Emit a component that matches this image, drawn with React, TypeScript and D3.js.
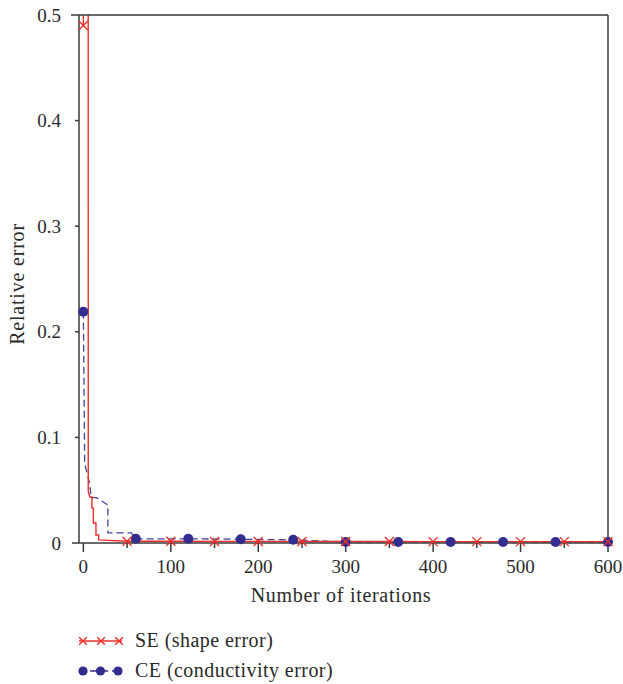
import React from "react";
import * as d3 from "d3";

// ---- Data ----
const seIter = [0, 1, 5.5, 5.6, 7.5, 9.8, 9.8, 11.4, 11.4, 14.4, 14.4, 17.5, 17.5, 50, 100, 150, 200, 250, 300, 350, 400, 450, 500, 550, 600];
const seValue = [0.49, 0.9, 0.9, 0.0485, 0.0435, 0.0435, 0.033, 0.033, 0.019, 0.019, 0.0076, 0.0076, 0.003, 0.0017, 0.0016, 0.0015, 0.0015, 0.0014, 0.0014, 0.0014, 0.0013, 0.0013, 0.0013, 0.0013, 0.0013];
const seMarkerIter = [0, 50, 100, 150, 200, 250, 300, 350, 400, 450, 500, 550, 600];
const seMarkerValue = [0.49, 0.0017, 0.0016, 0.0015, 0.0015, 0.0014, 0.0014, 0.0014, 0.0013, 0.0013, 0.0013, 0.0013, 0.0013];

const ceIter = [0, 1.5, 7, 9, 15, 28, 28, 55, 60, 120, 180, 240, 300, 360, 420, 480, 540, 600];
const ceValue = [0.219, 0.075, 0.057, 0.043, 0.043, 0.036, 0.0095, 0.0095, 0.004, 0.004, 0.0035, 0.003, 0.001, 0.001, 0.001, 0.001, 0.001, 0.001];
const ceMarkerIter = [0, 60, 120, 180, 240, 300, 360, 420, 480, 540, 600];
const ceMarkerValue = [0.219, 0.004, 0.004, 0.0035, 0.003, 0.001, 0.001, 0.001, 0.001, 0.001, 0.001];

const xTicks = [0, 100, 200, 300, 400, 500, 600];
const xMinorTicks = [50, 150, 250, 350, 450, 550];
const yTicks = [0, 0.1, 0.2, 0.3, 0.4, 0.5];
const yTickLabels = ["0", "0.1", "0.2", "0.3", "0.4", "0.5"];

const seriesNames = ["SE (shape error)", "CE (conductivity error)"];
const xTitle = "Number of iterations";
const yTitle = "Relative error";

// ---- Layout ----
const W = 623, H = 684;
const L = 79, R = 608, T = 15, B = 543;
const RED = "#ec2f28";
const BLUE = "#322d8e";
const AXIS = "#3a3a3a";
const TEXT = "#2a2a2a";
const FONT = "'Liberation Serif', 'Times New Roman', serif";

export default function App() {
  const x = d3.scaleLinear().domain([-5, 600]).range([L, R]);
  const y = d3.scaleLinear().domain([0, 0.5]).range([B, T]);

  const line = d3.line<[number, number]>().x(d => x(d[0])).y(d => y(d[1]));
  const sePts = seIter.map((v, i) => [v, seValue[i]] as [number, number]);
  const cePts = ceIter.map((v, i) => [v, ceValue[i]] as [number, number]);

  const cross = (cx: number, cy: number, s: number) =>
    `M${cx - s},${cy - s}L${cx + s},${cy + s}M${cx - s},${cy + s}L${cx + s},${cy - s}`;

  return (
    <svg width={W} height={H} style={{ position: "absolute", left: 0, top: 0, background: "#fff", fontFamily: FONT }}>
      <defs>
        <clipPath id="plotclip">
          <rect x={L} y={T} width={R - L} height={B - T} />
        </clipPath>
      </defs>

      {/* Series lines */}
      <g clipPath="url(#plotclip)">
        <path d={line(cePts) || ""} fill="none" stroke={BLUE} strokeWidth={1.3} strokeDasharray="7,4" opacity={0.9} />
        <path d={line(sePts) || ""} fill="none" stroke={RED} strokeWidth={1.4} />
      </g>

      {/* Frame */}
      <g stroke={AXIS} strokeWidth={1.5} fill="none">
        <line x1={L} y1={T} x2={L} y2={B} />
        <line x1={R} y1={T} x2={R} y2={B + 1} />
        <line x1={L - 8} y1={T} x2={R} y2={T} />
        <line x1={L - 7} y1={B} x2={R} y2={B} />
        {yTicks.slice(1, -1).map(t => (
          <line key={"yt" + t} x1={L - 4} x2={L} y1={y(t)} y2={y(t)} />
        ))}
        {xTicks.map(t => (
          <line key={"xt" + t} x1={x(t)} x2={x(t)} y1={B} y2={B + 9} />
        ))}
        {xMinorTicks.map(t => (
          <line key={"xm" + t} x1={x(t)} x2={x(t)} y1={B} y2={B + 5} />
        ))}
      </g>

      {/* Markers */}
      <g fill={BLUE}>
        {ceMarkerIter.map((t, i) => (
          <circle key={"cm" + t} cx={x(t)} cy={y(ceMarkerValue[i])} r={5} />
        ))}
      </g>
      <g stroke={RED} strokeWidth={1.4} fill="none">
        {seMarkerIter.map((t, i) => (
          <path key={"sm" + t} d={cross(x(t), y(seMarkerValue[i]), 4.5)} />
        ))}
      </g>

      {/* Tick labels */}
      <g fill={TEXT} fontSize={19}>
        {yTicks.map((t, i) => (
          <text key={"yl" + t} x={61} y={y(t)} dy="0.35em" textAnchor="end">{yTickLabels[i]}</text>
        ))}
        {xTicks.map(t => (
          <text key={"xl" + t} x={x(t)} y={573} textAnchor="middle">{t}</text>
        ))}
      </g>

      {/* Axis titles */}
      <text x={341} y={602} textAnchor="middle" fill={TEXT} fontSize={20} letterSpacing={0.7}>{xTitle}</text>
      <text transform={`translate(24,284) rotate(-90)`} textAnchor="middle" fill={TEXT} fontSize={20} letterSpacing={0.8}>{yTitle}</text>

      {/* Legend */}
      <g>
        <line x1={79} x2={122} y1={641} y2={641} stroke={RED} strokeWidth={1.4} />
        {[83, 101, 119].map(cx => (
          <path key={"lx" + cx} d={cross(cx, 641, 3.8)} stroke={RED} strokeWidth={1.4} fill="none" />
        ))}
        <text x={135} y={647} fill={TEXT} fontSize={20} letterSpacing={0.45}>{seriesNames[0]}</text>

        <line x1={79} x2={122} y1={671} y2={671} stroke={BLUE} strokeWidth={1.3} strokeDasharray="7,4" />
        {[83, 100.5, 118].map(cx => (
          <circle key={"lc" + cx} cx={cx} cy={671} r={4.6} fill={BLUE} />
        ))}
        <text x={135} y={677} fill={TEXT} fontSize={20} letterSpacing={0.45}>{seriesNames[1]}</text>
      </g>
    </svg>
  );
}
